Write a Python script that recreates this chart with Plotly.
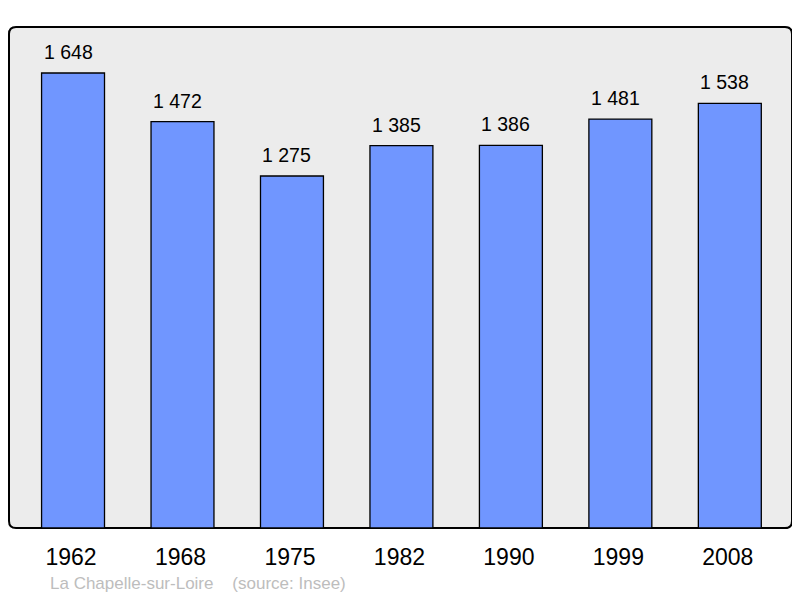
import plotly.graph_objects as go

years = ["1962", "1968", "1975", "1982", "1990", "1999", "2008"]
population = [1648, 1472, 1275, 1385, 1386, 1481, 1538]
value_labels = ["1 648", "1 472", "1 275", "1 385", "1 386", "1 481", "1 538"]
source_text = "La Chapelle-sur-Loire&nbsp;&nbsp;&nbsp;&nbsp;(source: Insee)"

# page has an 8px body margin, so the figure is offset by 8px
OFF = 8
W, H = 800 - OFF, 598 - OFF
L, T = 9 - OFF, 27 - OFF
R = W - (792 - OFF)
B = H - (528 - OFF)
pw, ph = W - L - R, H - T - B

xs = list(range(len(years)))

fig = go.Figure()
fig.add_trace(go.Bar(
    x=xs, y=population, width=0.575,
    marker=dict(color="#7096ff", line=dict(color="#000000", width=1.3)),
    hoverinfo="skip",
))

for x, v, lab in zip(xs, population, value_labels):
    fig.add_annotation(x=x, y=v, text=lab, showarrow=False, yanchor="bottom",
                       yshift=8, xshift=-5, font=dict(size=19.5, color="#000000",
                                                      family="Liberation Sans, Arial, sans-serif"))

fig.add_annotation(xref="paper", yref="paper", x=(48 - 9) / pw, y=(528 - 583) / ph,
                   xanchor="left", yanchor="middle", text=source_text,
                   showarrow=False, font=dict(size=17, color="#bdbdbd",
                                              family="Liberation Sans, Arial, sans-serif"))

rx, ry = 7 / pw, 7 / ph
path = (f"M {rx},0 L {1-rx},0 Q 1,0 1,{ry} L 1,{1-ry} Q 1,1 {1-rx},1 "
        f"L {rx},1 Q 0,1 0,{1-ry} L 0,{ry} Q 0,0 {rx},0 Z")
fig.add_shape(type="path", path=path, xref="paper", yref="paper",
              fillcolor="#ececec", line=dict(color="#000000", width=2), layer="below")

fig.update_layout(
    width=W, height=H,
    margin=dict(l=L, r=R, t=T, b=B, pad=0),
    paper_bgcolor="#ffffff", plot_bgcolor="rgba(0,0,0,0)",
    showlegend=False,
    font=dict(family="Liberation Sans, Arial, sans-serif", color="#000000"),
    xaxis=dict(range=[-0.585, 6.568], tickvals=xs, ticktext=years, showgrid=False,
               zeroline=False, showline=False, ticks="", ticklabelstandoff=13,
               ticklabelshift=-2,
               tickfont=dict(size=23, color="#000000"), fixedrange=True),
    yaxis=dict(range=[0, 1814.6], showgrid=False, zeroline=False, showline=False,
               showticklabels=False, ticks="", fixedrange=True),
)

fig.write_html("out.html")
